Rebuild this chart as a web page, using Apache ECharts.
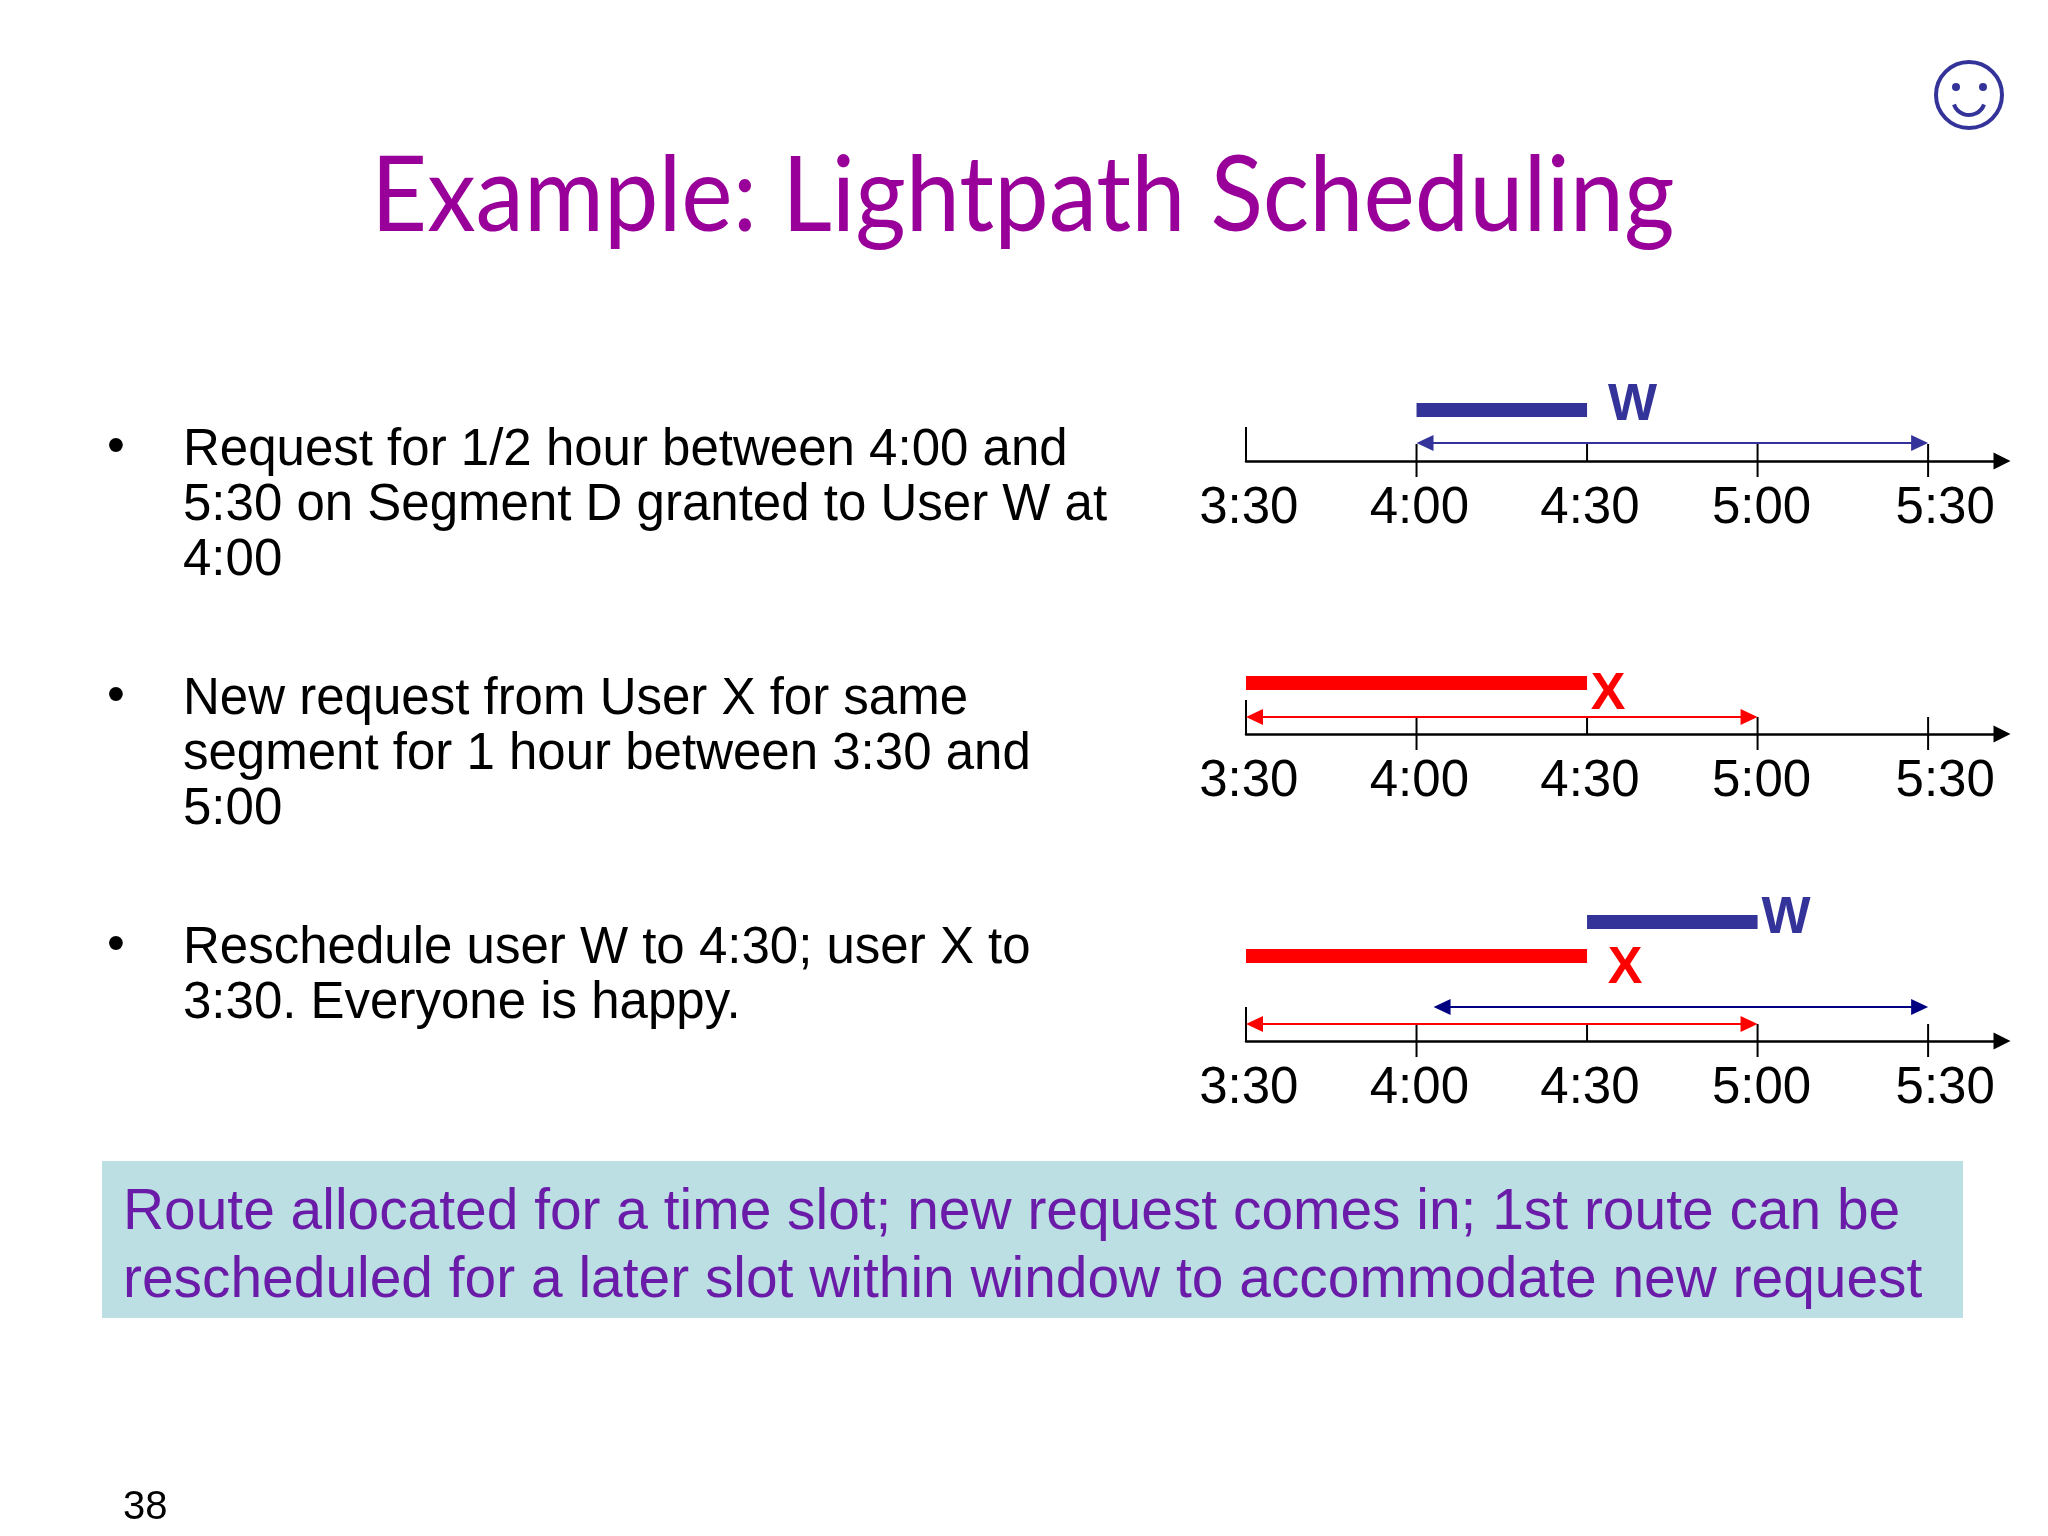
<!DOCTYPE html>
<html style='height: 100%'>
<head>
    <meta charset='utf-8'>
</head>
<body style='height: 100%; margin: 0; background: #fff'>
    <div id='container' style='width: 2048px; height: 1536px'></div>
    <script src="https://cdn.jsdelivr.net/npm/echarts@6/dist/echarts.min.js"></script>
    <script type="text/javascript">

// times are minutes after midnight, 3:30 = 210
var tickValues = [210, 240, 270, 300, 330];
var tickLabels = ['3:30', '4:00', '4:30', '5:00', '5:30'];
var labelValues = [210.5, 240.5, 270.5, 300.7, 333];

var titleText = 'Example: Lightpath Scheduling';
var bullet1 = ['Request for 1/2 hour between 4:00 and', '5:30 on Segment D granted to User W at', '4:00'];
var bullet2 = ['New request from User X for same', 'segment for 1 hour between 3:30 and', '5:00'];
var bullet3 = ['Reschedule user W to 4:30; user X to', '3:30. Everyone is happy.'];
var noteLines = ['Route allocated for a time slot; new request comes in; 1st route can be', 'rescheduled for a later slot within window to accommodate new request'];
var pageNumber = '38';

// first panel
var wBar1 = [240, 270];
var wWindow1 = [240, 330];
// second panel
var xBar2 = [210, 270];
var xWindow2 = [210, 300];
// third panel
var wBar3 = [270, 300];
var xBar3 = [210, 270];
var wWindow3 = [243, 330];
var xWindow3 = [210, 300];

var BLUE = '#333399', RED = '#ff0000', NAVY = '#000080';
var FONT = '"Liberation Sans", Arial, sans-serif';

var panels = [
    {
        axisY: 461,
        bars: [{range: wBar1, level: 51, color: BLUE}],
        windows: [{range: wWindow1, level: 18, color: BLUE}],
        names: [{text: 'W', at: 278, level: 55, color: BLUE}]
    },
    {
        axisY: 734,
        bars: [{range: xBar2, level: 51, color: RED}],
        windows: [{range: xWindow2, level: 17, color: RED}],
        names: [{text: 'X', at: 273.7, level: 39, color: RED}]
    },
    {
        axisY: 1041,
        bars: [{range: wBar3, level: 119, color: BLUE}, {range: xBar3, level: 85, color: RED}],
        windows: [{range: wWindow3, level: 34, color: NAVY}, {range: xWindow3, level: 17, color: RED}],
        names: [{text: 'W', at: 305, level: 122, color: BLUE}, {text: 'X', at: 276.7, level: 72, color: RED}]
    }
];

function renderTick(params, api) {
    var v = api.value(0);
    var top = api.coord([v, v == 210 ? 34 : 17]);
    var bottom = api.coord([v, (v == 210 || v == 270) ? 0 : -16]);
    return {
        type: 'line',
        shape: {x1: top[0], y1: top[1], x2: bottom[0], y2: bottom[1]},
        style: {stroke: '#000', lineWidth: 2}
    };
}

function renderBar(params, api) {
    var a = api.coord([api.value(0), api.value(2)]);
    var b = api.coord([api.value(1), api.value(2)]);
    return {
        type: 'rect',
        shape: {x: a[0], y: a[1] - 7, width: b[0] - a[0], height: 14},
        style: {fill: api.visual('color')}
    };
}

function renderWindow(params, api) {
    var a = api.coord([api.value(0), api.value(2)]);
    var b = api.coord([api.value(1), api.value(2)]);
    var color = api.visual('color');
    return {
        type: 'group',
        children: [
            {type: 'line', shape: {x1: a[0] + 10, y1: a[1], x2: b[0] - 10, y2: b[1]}, style: {stroke: color, lineWidth: 2}},
            {type: 'polygon', shape: {points: [[a[0], a[1]], [a[0] + 17, a[1] - 8], [a[0] + 17, a[1] + 8]]}, style: {fill: color}},
            {type: 'polygon', shape: {points: [[b[0], b[1]], [b[0] - 17, b[1] - 8], [b[0] - 17, b[1] + 8]]}, style: {fill: color}}
        ]
    };
}

var grids = [], xAxes = [], yAxes = [], series = [];
panels.forEach(function(p, i) {
    grids.push({left: 1246, width: 756, top: p.axisY - 140, height: 160});
    xAxes.push({
        type: 'value', gridIndex: i, min: 210, max: 343, interval: 30,
        axisLine: {show: true, onZero: true, lineStyle: {color: '#000', width: 2.5}, symbol: ['none', 'triangle'], symbolSize: [17, 17]},
        axisTick: {show: false},
        splitLine: {show: false},
        axisLabel: {
            customValues: labelValues, margin: 2, color: '#000', fontFamily: FONT, fontSize: 51,
            formatter: function(v) { return tickLabels[labelValues.indexOf(v)]; }
        }
    });
    yAxes.push({type: 'value', gridIndex: i, min: -20, max: 140, show: false});
    series.push({
        type: 'custom', xAxisIndex: i, yAxisIndex: i, renderItem: renderTick, silent: true,
        data: tickValues.map(function(v) { return [v]; })
    });
    series.push({
        type: 'custom', xAxisIndex: i, yAxisIndex: i, renderItem: renderBar, silent: true,
        encode: {x: [0, 1], y: 2},
        data: p.bars.map(function(b) { return {value: [b.range[0], b.range[1], b.level], itemStyle: {color: b.color}}; })
    });
    series.push({
        type: 'custom', xAxisIndex: i, yAxisIndex: i, renderItem: renderWindow, silent: true,
        encode: {x: [0, 1], y: 2},
        data: p.windows.map(function(w) { return {value: [w.range[0], w.range[1], w.level], itemStyle: {color: w.color}}; })
    });
    series.push({
        type: 'scatter', xAxisIndex: i, yAxisIndex: i, symbolSize: 0, silent: true,
        itemStyle: {opacity: 1},
        data: p.names.map(function(n) {
            return {
                value: [n.at, n.level],
                label: {show: true, position: 'inside', formatter: n.text, color: n.color, fontFamily: FONT, fontWeight: 'bold', fontSize: 52}
            };
        })
    });
});

function textLines(lines, x, y, step, font, fill) {
    return lines.map(function(t, i) {
        return {type: 'text', x: x, y: y + i * step, style: {text: t, font: font, fill: fill, textVerticalAlign: 'middle'}};
    });
}

var BODY_FONT = '51px ' + FONT;
var graphics = [];
// no Comic Sans here, Lato squeezed to the same width
graphics.push({type: 'text', x: 371, y: 197, scaleX: 0.935, style: {text: titleText, font: '104px "Comic Sans MS", Lato, sans-serif', fill: '#990099', textVerticalAlign: 'middle'}});
// smiley
graphics.push({type: 'circle', shape: {cx: 1969, cy: 95, r: 33}, style: {fill: '#fff', stroke: BLUE, lineWidth: 4}});
graphics.push({type: 'circle', shape: {cx: 1956, cy: 87, r: 4}, style: {fill: BLUE}});
graphics.push({type: 'circle', shape: {cx: 1983, cy: 87, r: 4}, style: {fill: BLUE}});
graphics.push({type: 'arc', shape: {cx: 1969, cy: 99, r: 16, startAngle: 0.35, endAngle: Math.PI - 0.35}, style: {fill: 'none', stroke: BLUE, lineWidth: 4}});

[[bullet1, 451, 448], [bullet2, 700, 697], [bullet3, 949, 946]].forEach(function(b) {
    graphics.push({type: 'text', x: 107, y: b[2], style: {text: '\u2022', font: BODY_FONT, fill: '#000', textVerticalAlign: 'middle'}});
    graphics = graphics.concat(textLines(b[0], 183, b[1], 55, BODY_FONT, '#000'));
});

graphics.push({type: 'rect', z: -1, shape: {x: 102, y: 1161, width: 1861, height: 157}, style: {fill: '#bbdfe2'}});
graphics = graphics.concat(textLines(noteLines, 123, 1213, 68, '56.9px ' + FONT, '#6a1ba8'));
graphics.push({type: 'text', x: 123, y: 1508, style: {text: pageNumber, font: '40px ' + FONT, fill: '#000', textVerticalAlign: 'middle'}});

var dom = document.getElementById("container");
var myChart = echarts.init(dom);
var option = {
    animation: false,
    backgroundColor: '#fff',
    grid: grids,
    xAxis: xAxes,
    yAxis: yAxes,
    series: series,
    graphic: {elements: graphics}
};
myChart.setOption(option, true);
    </script>
</body>
</html>
